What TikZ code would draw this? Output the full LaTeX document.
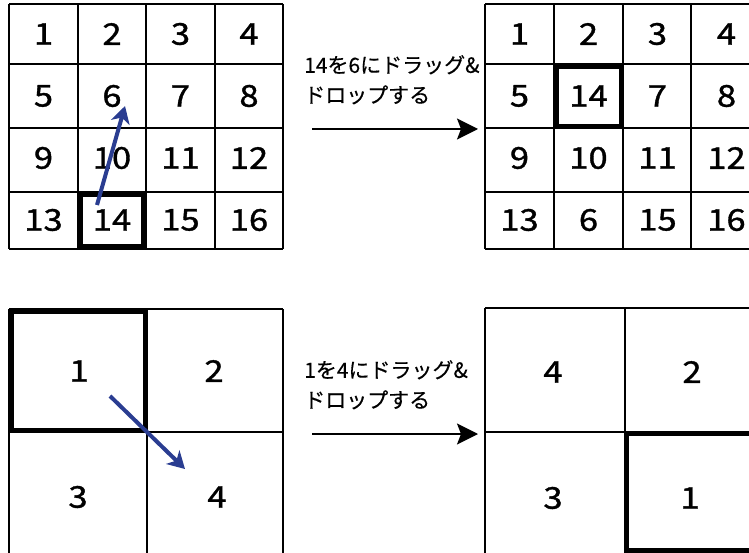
\documentclass[tikz,border=0pt]{standalone}
\usepackage{fontspec}
\setmainfont{Noto Sans CJK JP}
\newfontfamily\tilefont[FakeBold=1.2,FakeStretch=1.15]{Noto Sans CJK JP}
\newfontfamily\capfont[FakeBold=0.4]{Noto Sans CJK JP}
\usetikzlibrary{arrows.meta}
\definecolor{dragBlue}{RGB}{42, 61, 145}

\tikzset{
  gridline/.style={line width=1.8pt},
  picked/.style={line width=4.5pt},
  digit/.style={font=\tilefont\fontsize{30}{30}\selectfont},
  caption/.style={font=\capfont\fontsize{21}{30}\selectfont, align=left, anchor=north west, inner sep=0pt},
  dragarrow/.style={dragBlue, line width=4pt, -{Stealth[length=17pt,width=19pt,inset=5pt]}},
  steparrow/.style={line width=1.8pt, -{Stealth[length=21pt,width=21pt,inset=4pt]}}
}

\begin{document}
\begin{tikzpicture}[x=1pt,y=-1pt]
      \useasboundingbox (0,0) rectangle (749,553);
      \clip (0,0) rectangle (749,553);

      % 4x4 board, before
      \foreach \x in {9,78,146,215,283} \draw[gridline] (\x,4) -- (\x,249);
      \foreach \y in {4,64,128,192,249} \draw[gridline] (9,\y) -- (283,\y);
      \foreach \lab [count=\i from 0] in {1,...,16}
        \node[digit] (tl-\lab) at ({43.5+68.5*mod(\i,4)},{34+62*int(\i/4)}) {\lab};
      \draw[picked] (80.5,194.5) rectangle (143.5,246.5);

      % 4x4 board, after
      \foreach \x in {485,554,623,691,760} \draw[gridline] (\x,4) -- (\x,249);
      \foreach \y in {4,64,128,192,249} \draw[gridline] (485,\y) -- (760,\y);
      \foreach \lab [count=\i from 0] in {1,2,3,4,5,14,7,8,9,10,11,12,13,6,15,16}
        \node[digit] (tr-\i) at ({519.5+69*mod(\i,4)},{34+62*int(\i/4)}) {\lab};
      \draw[picked] (556.5,66.5) rectangle (621,126);

      % drag 14 -> 6
      \coordinate (grabA) at (97,205);
      \coordinate (dropA) at (125,106);
      \draw[dragarrow] (grabA) -- (dropA);

      % caption + arrow, top
      \node[caption] (msgA) at (304,55) {14を6にドラッグ\&\\ドロップする};
      \coordinate (stepA-from) at (312,129);
      \coordinate (stepA-to) at (478,129);
      \draw[steparrow] (stepA-from) -- (stepA-to);

      % 2x2 board, before
      \foreach \x in {9,147,283} \draw[gridline] (\x,309) -- (\x,560);
      \foreach \y in {309,432} \draw[gridline] (9,\y) -- (283,\y);
      \node[digit] (bl-1) at (79,371) {1};
      \node[digit] (bl-2) at (214,371) {2};
      \node[digit] (bl-3) at (78,497) {3};
      \node[digit] (bl-4) at (217,497) {4};
      \draw[picked,line width=5pt] (11.5,311.5) rectangle (145,430);

      % 2x2 board, after
      \foreach \x in {485,625,765} \draw[gridline] (\x,308) -- (\x,560);
      \foreach \y in {308,432} \draw[gridline] (485,\y) -- (765,\y);
      \node[digit] (br-4) at (553,372) {4};
      \node[digit] (br-2) at (692,372) {2};
      \node[digit] (br-3) at (553,498) {3};
      \node[digit] (br-1) at (690,498) {1};
      \draw[picked] (627,434) rectangle (770,550.5);

      % drag 1 -> 4
      \coordinate (grabB) at (110,396);
      \coordinate (dropB) at (185,469);
      \draw[dragarrow] (grabB) -- (dropB);

      % caption + arrow, bottom
      \node[caption] (msgB) at (304,360) {1を4にドラッグ\&\\ドロップする};
      \coordinate (stepB-from) at (312,434);
      \coordinate (stepB-to) at (478,434);
      \draw[steparrow] (stepB-from) -- (stepB-to);
    \end{tikzpicture}
\end{document}
